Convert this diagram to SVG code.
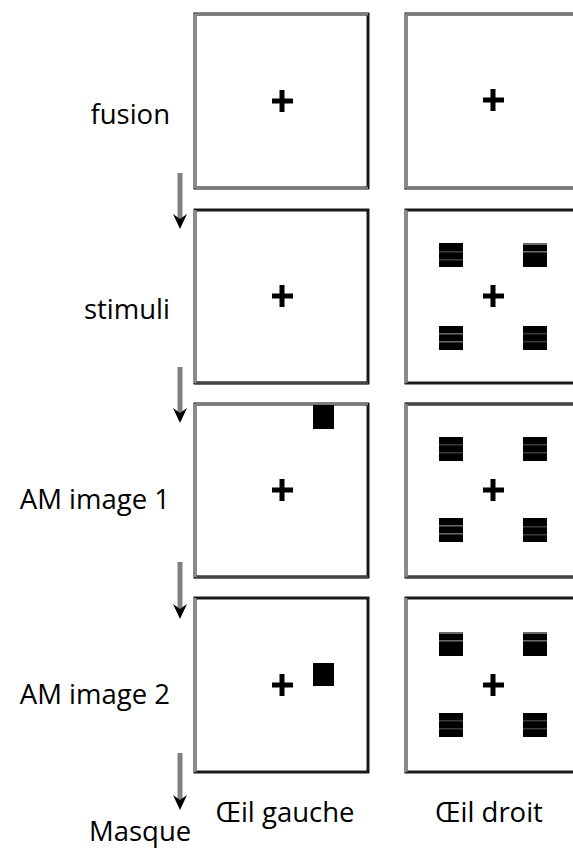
<svg xmlns="http://www.w3.org/2000/svg" width="573" height="848" viewBox="0 0 573 848">
<style>
  .lbl { font-family: "Open Sans", "Noto Sans", "DejaVu Sans", sans-serif; font-size: 27.5px; fill: #000; }
  .box { fill: #fff; stroke: #1a1a1a; stroke-width: 3; }
  .ledge { stroke: #8a8a8a; stroke-width: 3; }
  .gedge { stroke: #7a7a7a; stroke-width: 3; }
  .dedge { stroke: #444; stroke-width: 3; }
  .cross { fill: #000; }
  .sq { fill: #000; }
  .str1 { fill: #3a3a3a; }
  .str2 { fill: #6a6a6a; }
  .arrow { stroke: #808080; stroke-width: 5; fill: none; }
  .ahead { fill: #000; }
</style>
<defs>
  <g id="crossShape">
    <rect x="-10" y="-2.5" width="21" height="5" class="cross"/>
    <rect x="-2.5" y="-11" width="5" height="22" class="cross"/>
  </g>
  <g id="sqA"><rect x="0" y="0" width="24" height="24" class="sq"/><rect x="0" y="8" width="24" height="1.5" class="str1"/><rect x="0" y="16" width="24" height="1.5" class="str1"/></g>
  <g id="sqB"><rect x="0" y="0" width="24" height="24" class="sq"/><rect x="0" y="0" width="24" height="2" class="str2"/><rect x="0" y="8" width="24" height="1.5" class="str2"/></g>
  <g id="sqC"><rect x="0" y="0" width="24" height="24" class="sq"/><rect x="0" y="7" width="24" height="1.5" class="str2"/><rect x="0" y="15" width="24" height="1.5" class="str2"/></g>
  <g id="sqD"><rect x="0" y="0" width="24" height="24" class="sq"/><rect x="0" y="7" width="24" height="1.5" class="str1"/><rect x="0" y="15" width="24" height="1.5" class="str1"/></g>
</defs>
<rect width="573" height="848" fill="#fff"/>

<!-- Labels -->
<g id="labels">
  <text class="lbl" x="170" y="124" text-anchor="end">fusion</text>
  <text class="lbl" x="170" y="319" text-anchor="end">stimuli</text>
  <text class="lbl" x="170" y="509" text-anchor="end">AM image 1</text>
  <text class="lbl" x="170" y="704" text-anchor="end">AM image 2</text>
  <text class="lbl" x="89" y="841">Masque</text>
  <text class="lbl" x="285" y="822" text-anchor="middle">Œil gauche</text>
  <text class="lbl" x="489" y="822" text-anchor="middle">Œil droit</text>
</g>

<!-- Row 1: fusion -->
<g id="fusion-left">
  <rect class="box" x="195" y="14" width="173" height="174"/>
  <line class="gedge" x1="195" y1="14" x2="368" y2="14"/>
  <line class="gedge" x1="195" y1="188" x2="368" y2="188"/>
  <line class="ledge" x1="195" y1="14" x2="195" y2="188"/>
  <use href="#crossShape" x="282" y="101"/>
</g>
<g id="fusion-right">
  <rect class="box" x="406" y="14" width="200" height="174"/>
  <line class="gedge" x1="406" y1="14" x2="573" y2="14"/>
  <line class="gedge" x1="406" y1="188" x2="573" y2="188"/>
  <line class="ledge" x1="406" y1="14" x2="406" y2="188"/>
  <use href="#crossShape" x="493" y="100"/>
</g>

<!-- Row 2: stimuli -->
<g id="stimuli-left">
  <rect class="box" x="195" y="210" width="173" height="173"/>
  <line class="dedge" x1="195" y1="383" x2="368" y2="383"/>
  <line class="ledge" x1="195" y1="210" x2="195" y2="383"/>
  <use href="#crossShape" x="282" y="296"/>
</g>
<g id="stimuli-right">
  <rect class="box" x="406" y="210" width="200" height="173"/>
  <line class="ledge" x1="406" y1="210" x2="406" y2="383"/>
  <use href="#crossShape" x="493" y="296"/>
  <use href="#sqA" x="439" y="243"/>
  <use href="#sqB" x="523" y="243"/>
  <use href="#sqC" x="439" y="326"/>
  <use href="#sqD" x="523" y="326"/>
</g>

<!-- Row 3: AM image 1 -->
<g id="am1-left">
  <rect class="box" x="195" y="404" width="173" height="173"/>
  <line class="gedge" x1="195" y1="404" x2="368" y2="404"/>
  <line class="dedge" x1="195" y1="577" x2="368" y2="577"/>
  <line class="ledge" x1="195" y1="404" x2="195" y2="577"/>
  <use href="#crossShape" x="282" y="490"/>
  <rect class="sq" x="313" y="405" width="21" height="24"/>
</g>
<g id="am1-right">
  <rect class="box" x="406" y="404" width="200" height="173"/>
  <line class="dedge" x1="406" y1="404" x2="573" y2="404"/>
  <line class="dedge" x1="406" y1="577" x2="573" y2="577"/>
  <line class="ledge" x1="406" y1="404" x2="406" y2="577"/>
  <use href="#crossShape" x="493" y="490"/>
  <use href="#sqD" x="439" y="437"/>
  <use href="#sqD" x="523" y="437"/>
  <use href="#sqC" x="439" y="518"/>
  <use href="#sqA" x="523" y="518"/>
</g>

<!-- Row 4: AM image 2 -->
<g id="am2-left">
  <rect class="box" x="195" y="598" width="173" height="174"/>
  <line class="ledge" x1="195" y1="598" x2="195" y2="772"/>
  <use href="#crossShape" x="282" y="685"/>
  <rect class="sq" x="313" y="663" width="21" height="23"/>
</g>
<g id="am2-right">
  <rect class="box" x="406" y="598" width="200" height="174"/>
  <line class="ledge" x1="406" y1="598" x2="406" y2="772"/>
  <use href="#crossShape" x="493" y="685"/>
  <use href="#sqB" x="439" y="632"/>
  <use href="#sqB" x="523" y="632"/>
  <use href="#sqD" x="439" y="713"/>
  <use href="#sqD" x="523" y="713"/>
</g>

<!-- Connectors -->
<g id="connectors">
  <line class="arrow" x1="180" y1="173" x2="180" y2="220"/>
  <path class="ahead" d="M173,214 L180,229 L187,214 L180,219 Z"/>
  <line class="arrow" x1="180" y1="367" x2="180" y2="414"/>
  <path class="ahead" d="M173,408 L180,423 L187,408 L180,413 Z"/>
  <line class="arrow" x1="180" y1="562" x2="180" y2="610"/>
  <path class="ahead" d="M173,604 L180,619 L187,604 L180,609 Z"/>
  <line class="arrow" x1="180" y1="753" x2="180" y2="801"/>
  <path class="ahead" d="M173,795 L180,810 L187,795 L180,800 Z"/>
</g>
</svg>
